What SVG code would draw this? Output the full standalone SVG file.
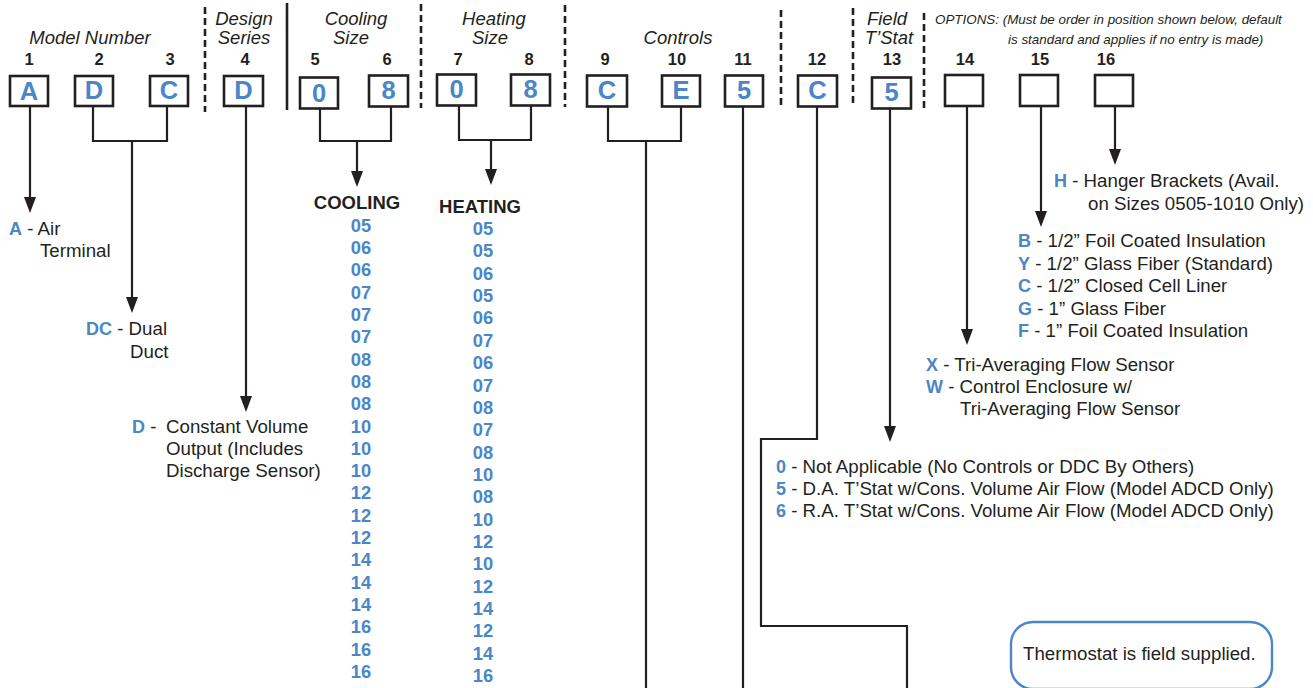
<svg xmlns="http://www.w3.org/2000/svg" width="1313" height="688" viewBox="0 0 1313 688">
<defs>
<style>
text{font-family:"Liberation Sans",Arial,Helvetica,sans-serif;fill:#231f20}
.hd{font-size:18.5px;font-style:italic;text-anchor:middle}
.opt{font-size:13.4px;font-style:italic}
.num{font-size:16.5px;font-weight:bold;text-anchor:middle}
.bx{fill:#fff;stroke:#231f20;stroke-width:2.6}
.bl{font-size:25.5px;font-weight:bold;fill:#4a86c8;text-anchor:middle}
.dash{stroke:#231f20;stroke-width:2.6;stroke-dasharray:7 4;fill:none}
.solid{stroke:#231f20;stroke-width:2.6;fill:none}
.ln{stroke:#231f20;stroke-width:2.2;fill:none}
.tx{font-size:18.7px}
.k{font-weight:bold;fill:#4a86c8;font-size:18px}
.lh{font-size:18.5px;font-weight:bold;text-anchor:middle}
.ls{font-size:18.3px;font-weight:bold;fill:#4a86c8;text-anchor:middle}
</style>
<marker id="ar" viewBox="0 -6 16 12" refX="0" refY="0" markerWidth="16" markerHeight="12" markerUnits="userSpaceOnUse" orient="auto">
<path d="M0,-6 L16,0 L0,6 z" fill="#231f20"/>
</marker>
</defs>
<rect width="1313" height="688" fill="#fff"/>

<g id="headers">
<text class="hd" x="90" y="44">Model Number</text>
<text class="hd" x="244" y="25">Design</text>
<text class="hd" x="244" y="44">Series</text>
<text class="hd" x="356" y="25">Cooling</text>
<text class="hd" x="351" y="44">Size</text>
<text class="hd" x="494" y="25">Heating</text>
<text class="hd" x="490" y="44">Size</text>
<text class="hd" x="678" y="44">Controls</text>
<text class="hd" x="887" y="25">Field</text>
<text class="hd" x="889" y="44">T’Stat</text>
<text class="opt" x="935" y="24">OPTIONS: (Must be order in position shown below, default</text>
<text class="opt" x="1008" y="44">is standard and applies if no entry is made)</text>
</g>

<g id="dividers">
<line class="dash" x1="205" y1="7" x2="205" y2="112"/>
<line class="solid" x1="287" y1="3" x2="287" y2="110"/>
<line class="dash" x1="421" y1="4" x2="421" y2="108"/>
<line class="dash" x1="565" y1="5" x2="565" y2="107"/>
<line class="dash" x1="781" y1="10" x2="781" y2="107"/>
<line class="dash" x1="853" y1="8" x2="853" y2="106"/>
<line class="dash" x1="924" y1="13" x2="924" y2="110"/>
</g>

<g id="positions">
<text class="num" x="29" y="65">1</text>
<text class="num" x="99" y="65">2</text>
<text class="num" x="170" y="65">3</text>
<text class="num" x="245" y="65">4</text>
<text class="num" x="315" y="65">5</text>
<text class="num" x="387" y="65">6</text>
<text class="num" x="458" y="65">7</text>
<text class="num" x="529" y="65">8</text>
<text class="num" x="605" y="65">9</text>
<text class="num" x="677" y="65">10</text>
<text class="num" x="743" y="65">11</text>
<text class="num" x="817" y="65">12</text>
<text class="num" x="892" y="65">13</text>
<text class="num" x="965" y="65">14</text>
<text class="num" x="1040" y="65">15</text>
<text class="num" x="1106" y="65">16</text>
</g>

<g id="box1"><rect class="bx" x="10" y="76" width="38" height="30"/><text class="bl" x="29" y="100">A</text></g>
<g id="box2"><rect class="bx" x="75" y="76" width="38" height="30"/><text class="bl" x="94" y="99">D</text></g>
<g id="box3"><rect class="bx" x="150" y="76" width="38" height="30"/><text class="bl" x="169" y="99">C</text></g>
<g id="box4"><rect class="bx" x="224" y="76" width="39" height="30"/><text class="bl" x="243.5" y="99">D</text></g>
<g id="box5"><rect class="bx" x="300" y="77.5" width="38" height="31"/><text class="bl" x="319" y="102">0</text></g>
<g id="box6"><rect class="bx" x="369" y="75.5" width="39" height="31"/><text class="bl" x="388.5" y="99">8</text></g>
<g id="box7"><rect class="bx" x="437" y="74.5" width="39" height="31"/><text class="bl" x="456.5" y="98">0</text></g>
<g id="box8"><rect class="bx" x="511" y="74.5" width="39" height="31"/><text class="bl" x="530.5" y="98">8</text></g>
<g id="box9"><rect class="bx" x="587" y="75.5" width="40" height="31"/><text class="bl" x="607" y="99">C</text></g>
<g id="box10"><rect class="bx" x="662" y="75.5" width="38" height="31"/><text class="bl" x="681" y="99">E</text></g>
<g id="box11"><rect class="bx" x="725" y="75.5" width="38" height="31"/><text class="bl" x="744" y="99">5</text></g>
<g id="box12"><rect class="bx" x="798" y="75.5" width="39" height="31"/><text class="bl" x="817.5" y="99">C</text></g>
<g id="box13"><rect class="bx" x="872" y="77.5" width="39" height="31"/><text class="bl" x="891.5" y="101">5</text></g>
<g id="box14"><rect class="bx" x="945" y="75" width="38" height="31"/></g>
<g id="box15"><rect class="bx" x="1020" y="75" width="38" height="31"/></g>
<g id="box16"><rect class="bx" x="1095" y="75" width="38" height="31"/></g>

<g id="connectors">
<path class="ln" d="M30,106 V197" marker-end="url(#ar)"/>
<path class="ln" d="M93,106 V141 H167 V106"/>
<path class="ln" d="M132,141 V297" marker-end="url(#ar)"/>
<path class="ln" d="M246,106 V396" marker-end="url(#ar)"/>
<path class="ln" d="M320,108 V141 H391 V106"/>
<path class="ln" d="M357,141 V171" marker-end="url(#ar)"/>
<path class="ln" d="M459,105 V140 H531 V105"/>
<path class="ln" d="M491,140 V169" marker-end="url(#ar)"/>
<path class="ln" d="M608,106 V141 H681 V106"/>
<path class="ln" d="M646,141 V688"/>
<path class="ln" d="M743,106 V688"/>
<path class="ln" d="M817,106 V439 H761 V626 H907 V688"/>
<path class="ln" d="M890,108 V426" marker-end="url(#ar)"/>
<path class="ln" d="M967,106 V329" marker-end="url(#ar)"/>
<path class="ln" d="M1041,106 V211" marker-end="url(#ar)"/>
<path class="ln" d="M1115,106 V149" marker-end="url(#ar)"/>
</g>

<g id="desc-model">
<text class="tx" x="9" y="235"><tspan class="k">A</tspan> - Air</text>
<text class="tx" x="40" y="257">Terminal</text>
<text class="tx" x="86" y="335"><tspan class="k">DC</tspan> - Dual</text>
<text class="tx" x="130" y="358">Duct</text>
</g>
<g id="desc-design">
<text class="tx" x="132" y="433"><tspan class="k">D</tspan> - <tspan x="166">Constant Volume</tspan></text>
<text class="tx" x="166" y="455">Output (Includes</text>
<text class="tx" x="166" y="477">Discharge Sensor)</text>
</g>

<g id="cooling-list">
<text class="lh" x="357" y="209">COOLING</text>
<text class="ls"><tspan x="361" y="231.6">05</tspan><tspan x="361" y="253.9">06</tspan><tspan x="361" y="276.2">06</tspan><tspan x="361" y="298.6">07</tspan><tspan x="361" y="320.9">07</tspan><tspan x="361" y="343.2">07</tspan><tspan x="361" y="365.5">08</tspan><tspan x="361" y="387.8">08</tspan><tspan x="361" y="410.2">08</tspan><tspan x="361" y="432.5">10</tspan><tspan x="361" y="454.8">10</tspan><tspan x="361" y="477.1">10</tspan><tspan x="361" y="499.4">12</tspan><tspan x="361" y="521.8">12</tspan><tspan x="361" y="544.1">12</tspan><tspan x="361" y="566.4">14</tspan><tspan x="361" y="588.7">14</tspan><tspan x="361" y="611">14</tspan><tspan x="361" y="633.4">16</tspan><tspan x="361" y="655.7">16</tspan><tspan x="361" y="678">16</tspan></text>
</g>

<g id="heating-list">
<text class="lh" x="480" y="213">HEATING</text>
<text class="ls"><tspan x="483" y="235">05</tspan><tspan x="483" y="257.4">05</tspan><tspan x="483" y="279.7">06</tspan><tspan x="483" y="302.1">05</tspan><tspan x="483" y="324.4">06</tspan><tspan x="483" y="346.8">07</tspan><tspan x="483" y="369.1">06</tspan><tspan x="483" y="391.5">07</tspan><tspan x="483" y="413.8">08</tspan><tspan x="483" y="436.2">07</tspan><tspan x="483" y="458.5">08</tspan><tspan x="483" y="480.9">10</tspan><tspan x="483" y="503.2">08</tspan><tspan x="483" y="525.6">10</tspan><tspan x="483" y="547.9">12</tspan><tspan x="483" y="570.3">10</tspan><tspan x="483" y="592.6">12</tspan><tspan x="483" y="615">14</tspan><tspan x="483" y="637.3">12</tspan><tspan x="483" y="659.7">14</tspan><tspan x="483" y="682">16</tspan></text>
</g>

<g id="desc-hanger">
<text class="tx" x="1054" y="187"><tspan class="k">H</tspan> - Hanger Brackets (Avail.</text>
<text class="tx" x="1088" y="210">on Sizes 0505-1010 Only)</text>
</g>
<g id="desc-insulation">
<text class="tx" x="1018" y="247"><tspan class="k">B</tspan> - 1/2” Foil Coated Insulation</text>
<text class="tx" x="1018" y="270"><tspan class="k">Y</tspan> - 1/2” Glass Fiber (Standard)</text>
<text class="tx" x="1018" y="292"><tspan class="k">C</tspan> - 1/2” Closed Cell Liner</text>
<text class="tx" x="1018" y="315"><tspan class="k">G</tspan> - 1” Glass Fiber</text>
<text class="tx" x="1018" y="337"><tspan class="k">F</tspan> - 1” Foil Coated Insulation</text>
</g>
<g id="desc-sensor">
<text class="tx" x="926" y="371"><tspan class="k">X</tspan> - Tri-Averaging Flow Sensor</text>
<text class="tx" x="926" y="393"><tspan class="k">W</tspan> - Control Enclosure w/</text>
<text class="tx" x="960" y="415">Tri-Averaging Flow Sensor</text>
</g>
<g id="desc-tstat">
<text class="tx" x="776" y="473"><tspan class="k">0</tspan> - Not Applicable (No Controls or DDC By Others)</text>
<text class="tx" x="776" y="495"><tspan class="k">5</tspan> - D.A. T’Stat w/Cons. Volume Air Flow (Model ADCD Only)</text>
<text class="tx" x="776" y="517"><tspan class="k">6</tspan> - R.A. T’Stat w/Cons. Volume Air Flow (Model ADCD Only)</text>
</g>

<g id="note">
<rect x="1011" y="622" width="261" height="67" rx="22" ry="22" fill="#fff" stroke="#4a86c8" stroke-width="2.4"/>
<text class="tx" x="1023" y="660">Thermostat is field supplied.</text>
</g>
</svg>
